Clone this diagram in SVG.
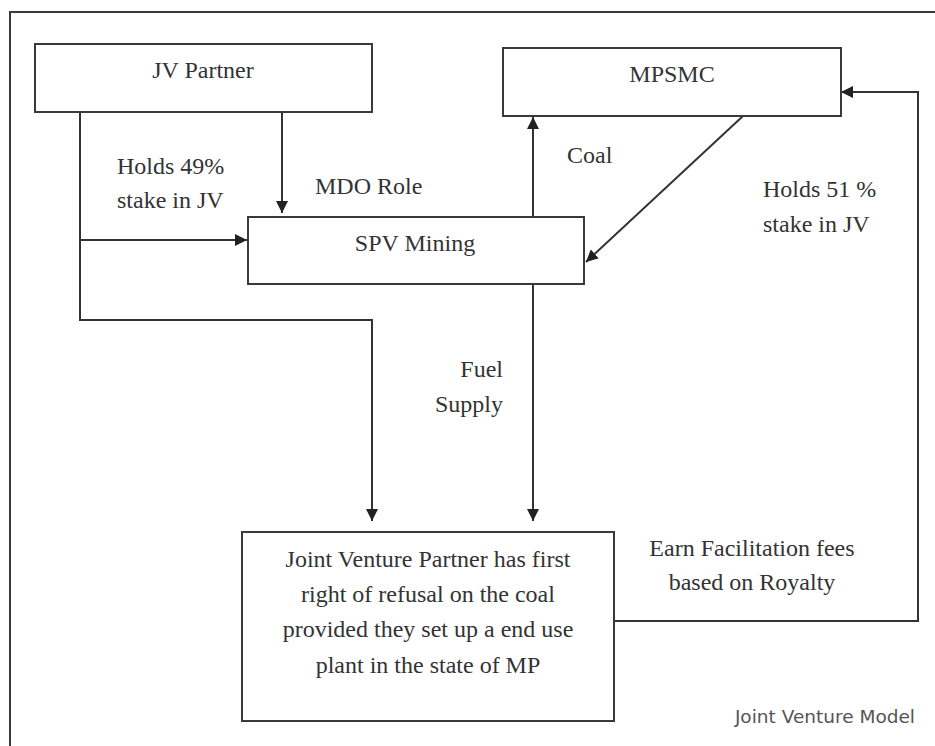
<svg xmlns="http://www.w3.org/2000/svg" width="935" height="746" viewBox="0 0 935 746">
<style>
.box{fill:#fff;stroke:#3a3a3a;stroke-width:2}
.con{fill:none;stroke:#333;stroke-width:2}
.t{font-family:"Liberation Serif","Times New Roman",serif;font-size:24px;fill:#333}
.c{text-anchor:middle}
.cap{font-family:"DejaVu Sans",Verdana,sans-serif;font-size:18.5px;fill:#555}
</style>
<defs>
<marker id="ah" markerUnits="userSpaceOnUse" markerWidth="12" markerHeight="12" refX="12" refY="6" orient="auto">
<path d="M0,0 L12,6 L0,12 z" fill="#222"/>
</marker>
</defs>
<rect x="0" y="0" width="935" height="746" fill="#fff"/>
<path d="M10,746 V12 H935" fill="none" stroke="#3a3a3a" stroke-width="2"/>
<g id="connectors">
<path class="con" d="M80,112 V320 H372 V521" marker-end="url(#ah)"/>
<path class="con" d="M80,240 H247" marker-end="url(#ah)"/>
<path class="con" d="M282,112 V213" marker-end="url(#ah)"/>
<path class="con" d="M533,217 V117" marker-end="url(#ah)"/>
<path class="con" d="M743,116 L586,262" marker-end="url(#ah)"/>
<path class="con" d="M533,284 V521" marker-end="url(#ah)"/>
<path class="con" d="M614,621 H918 V92 H841" marker-end="url(#ah)"/>
</g>
<g id="labels">
<text class="t" x="117" y="174">Holds 49%</text>
<text class="t" x="117" y="208">stake in JV</text>
<text class="t" x="315" y="194">MDO Role</text>
<text class="t" x="567" y="163">Coal</text>
<text class="t" x="763" y="197">Holds 51 %</text>
<text class="t" x="763" y="232">stake in JV</text>
<text class="t" x="503" y="377" text-anchor="end">Fuel</text>
<text class="t" x="503" y="412" text-anchor="end">Supply</text>
<text class="t c" x="752" y="556">Earn Facilitation fees</text>
<text class="t c" x="752" y="590">based on Royalty</text>
<text class="cap" x="915" y="723" text-anchor="end">Joint Venture Model</text>
</g>
<g id="jv-partner">
<rect class="box" x="35" y="44" width="337" height="68"/>
<text class="t c" x="203" y="78">JV Partner</text>
</g>
<g id="mpsmc">
<rect class="box" x="503" y="48" width="338" height="68"/>
<text class="t c" x="672" y="82">MPSMC</text>
</g>
<g id="spv-mining">
<rect class="box" x="248" y="217" width="336" height="67"/>
<text class="t c" x="415" y="251">SPV Mining</text>
</g>
<g id="jv-right">
<rect class="box" x="242" y="532" width="372" height="189"/>
<text class="t c" x="428" y="567">Joint Venture Partner has first</text>
<text class="t c" x="428" y="602">right of refusal on the coal</text>
<text class="t c" x="428" y="637">provided they set up a end use</text>
<text class="t c" x="428" y="673">plant in the state of MP</text>
</g>
</svg>
